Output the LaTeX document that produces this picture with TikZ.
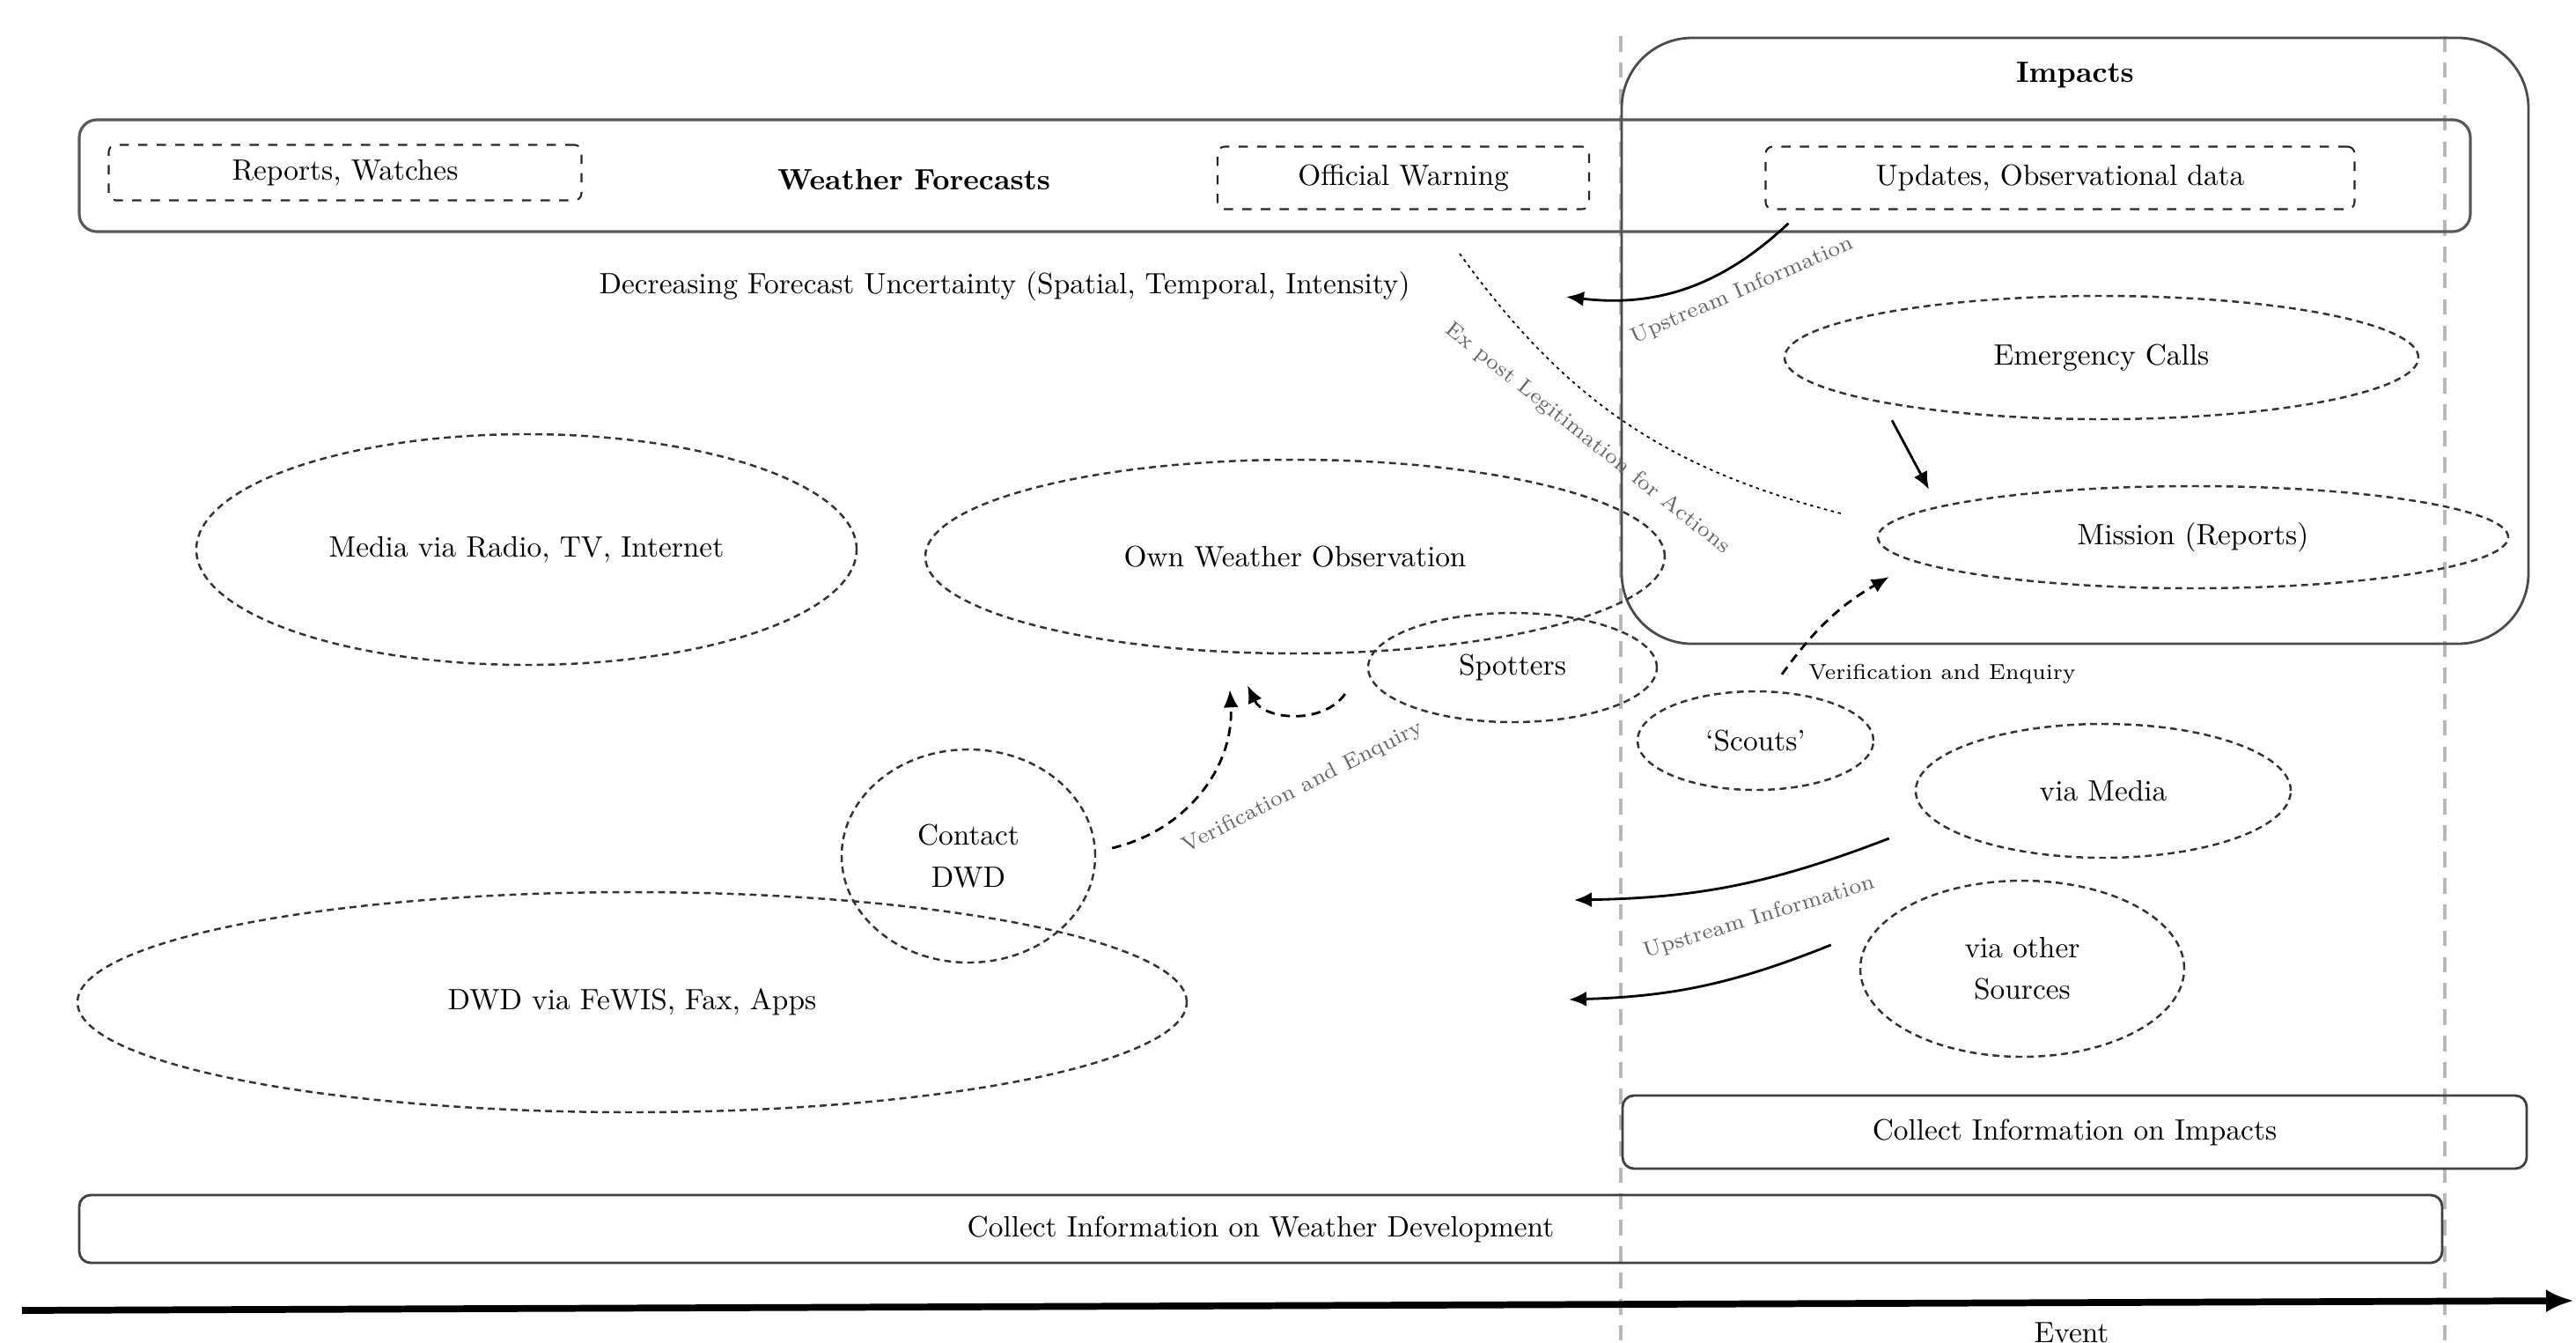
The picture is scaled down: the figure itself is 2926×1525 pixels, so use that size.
\documentclass[tikz,border=0pt]{standalone}
\usepackage{tikz}
\usetikzlibrary{arrows.meta,positioning,calc,shapes.geometric}
\tikzset{
  fcbar/.style={draw=black!65, line width=0.9pt, rounded corners=2mm, inner sep=0pt},
  fcitem/.style={draw=black!85, dashed, line width=0.6pt, rounded corners=0.8mm, inner sep=0pt},
  infoval/.style={ellipse, draw=black!80, dash pattern=on 2.2pt off 1.5pt, line width=0.7pt, inner sep=0pt, align=center},
  collbar/.style={draw=black!75, line width=0.8pt, rounded corners=1.3mm, inner sep=0pt},
  impbox/.style={draw=black!70, line width=0.8pt, rounded corners=8mm, inner sep=0pt},
  hdr/.style={font=\bfseries\fontsize{9.5}{13}\selectfont},
  upflow/.style={-{Latex[length=2mm,width=1.7mm]}, line width=0.8pt},
  veflow/.style={-{Latex[length=2mm,width=1.7mm]}, line width=0.8pt, dash pattern=on 3pt off 2pt},
  legit/.style={line width=0.5pt, dash pattern=on 1pt off 1.3pt},
  flowlbl/.style={font=\scriptsize, text=black!60, inner sep=1pt},
  phase/.style={draw=black!28, line width=1.1pt, dash pattern=on 5pt off 3.5pt}
}

\begin{document}
\begin{tikzpicture}[x=0.1mm, y=-0.1mm, font=\fontsize{9.5}{13.5}\selectfont]
\useasboundingbox (0,0) rectangle (2926,1525);
% phase borders
\draw[phase] (1841,41) -- (1841,1525);
\draw[phase] (2777,41) -- (2777,1525);

% impacts frame
\node[impbox, minimum width=103mm, minimum height=68.8mm] (imp) at (2357,387) {};
\node[hdr, below=1.7mm of imp.north] (impt) {Impacts};

% forecasts bar
\node[fcbar, minimum width=271.6mm, minimum height=12.7mm] (fc) at (1448,199.5) {};
\node[fcitem, minimum width=53.7mm, minimum height=6.3mm] (rep) at (392,196) {Reports, Watches};
\node[hdr] (fct) at (1038,204) {Weather Forecasts};
\node[fcitem, minimum width=42.2mm, minimum height=7.1mm] (warn) at (1594,202) {Official Warning};
\node[fcitem, minimum width=66.9mm, minimum height=7.1mm] (upd) at (2340,202) {Updates, Observational data};
\node (unc) at (1141,325) {Decreasing Forecast Uncertainty (Spatial, Temporal, Intensity)};

% information sources
\node[infoval, minimum width=75mm, minimum height=26.2mm] (med) at (598,624) {Media via Radio, TV, Internet};
\node[infoval, minimum width=84mm, minimum height=22mm] (own) at (1471,632) {Own Weather Observation};
\node[infoval, minimum width=32.8mm, minimum height=12.4mm] (spt) at (1718,758) {Spotters};
\node[infoval, minimum width=28.8mm, minimum height=24.2mm] (cdw) at (1100,972) {Contact\\DWD};
\node[infoval, minimum width=126mm, minimum height=25mm] (dwd) at (718,1138) {DWD via FeWIS, Fax, Apps};
\node[infoval, minimum width=72mm, minimum height=14mm] (emc) at (2387,406) {Emergency Calls};
\node[infoval, minimum width=71.6mm, minimum height=11.6mm] (mis) at (2491,610) {Mission (Reports)};
\node[infoval, minimum width=26.8mm, minimum height=11.2mm] (sct) at (1994,841) {`Scouts'};
\node[infoval, minimum width=42.6mm, minimum height=15.2mm] (vmd) at (2389,898) {via Media};
\node[infoval, minimum width=36.8mm, minimum height=20mm] (vos) at (2297,1100) {via other\\Sources};

% collection bars
\node[collbar, minimum width=102.7mm, minimum height=8.3mm] (cimp) at (2356.5,1285.5) {Collect Information on Impacts};
\node[collbar, minimum width=268.4mm, minimum height=7.7mm] (cwd) at (1432,1395.5) {Collect Information on Weather Development};

% time axis
\coordinate (t0) at (25,1488);
\coordinate (t1) at (2924,1477);
\draw[line width=2.2pt, -{Latex[length=3.2mm,width=2.6mm]}] (t0) -- (t1);
\node (evt) at (2353,1513) {Event};

% flows
\coordinate (upEnd) at (1779,337);
\coordinate (medEnd) at (1788,1022);
\coordinate (othEnd) at (1782,1135);
\coordinate (lgA) at (1658,288);
\coordinate (lgB) at (2091,583);
\draw[upflow] ($(upd.south west)+(27,15)$) to[bend left=25] (upEnd);
\draw[legit] (lgA) to[bend right=20] (lgB);
\draw[upflow] ($(emc.south)+(-238,0)$) -- ($(mis.north)+(-300,5)$);
\draw[veflow] ($(sct.north)+(30,-18)$) to[bend left=12] ($(mis.west)+(14,45)$);
\draw[veflow] ($(spt.west)+(-25,30)$) to[bend left=60] ($(own.south)+(-54,35)$);
\draw[veflow] ($(cdw.east)+(18,-9)$) to[bend right=40] ($(own.south)+(-74,40)$);
\draw[upflow] ($(vmd.west)+(-29,54)$) to[bend left=10] (medEnd);
\draw[upflow] ($(vos.west)+(-32,-27)$) to[bend left=10] (othEnd);

% flow labels
\node[flowlbl, rotate=23.5] (lup1) at (1979,330) {Upstream Information};
\node[flowlbl, rotate=-38.5] (llg) at (1803,498) {Ex post Legitimation for Actions};
\node[flowlbl, rotate=27] (lve1) at (1480,894) {Verification and Enquiry};
\node[flowlbl, text=black] (lve2) at (2206,765) {Verification and Enquiry};
\node[flowlbl, rotate=17] (lup2) at (1998,1042) {Upstream Information};
\end{tikzpicture}
\end{document}
